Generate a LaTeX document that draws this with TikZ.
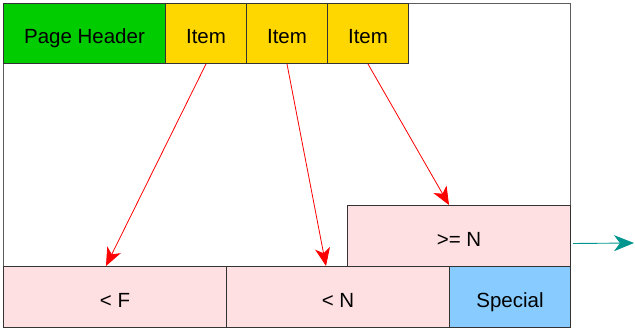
\documentclass[tikz,border=0pt]{standalone}
\usepackage{fontspec}
\setmainfont{Liberation Sans}
\usetikzlibrary{arrows.meta,calc}
\definecolor{hgreen}{HTML}{00CC00}
\definecolor{hyellow}{HTML}{FFD700}
\definecolor{hpink}{HTML}{FFE0E2}
\definecolor{hblue}{HTML}{88CCFF}
\definecolor{hteal}{HTML}{00968F}
\definecolor{hframe}{HTML}{333333}
\begin{document}
\begin{tikzpicture}[x=1pt,y=-1pt,
  cell/.style={draw=hframe,line width=1pt,anchor=north west,inner sep=0pt,text height=21pt,text depth=0pt,font=\fontsize{20.5}{24}\selectfont},
  redarrow/.style={draw=red,line width=0.8pt,-{Stealth[length=18pt,width=15pt,inset=5pt]}},
  tealarrow/.style={draw=hteal,line width=0.9pt,-{Stealth[length=20pt,width=16pt,inset=6pt]}}]
\useasboundingbox (0,0) rectangle (635,328);
\node[draw=hframe!80,line width=1pt,anchor=north west,minimum width=567pt,minimum height=324pt,inner sep=0pt] (frame) at (3,3) {};
\node[cell,fill=hgreen,minimum width=162pt,minimum height=60pt] (ph) at (3,3) {Page Header};
\node[cell,fill=hyellow,minimum width=81pt,minimum height=60pt] (i1) at (165,3) {Item};
\node[cell,fill=hyellow,minimum width=81pt,minimum height=60pt] (i2) at (246,3) {Item};
\node[cell,fill=hyellow,minimum width=81pt,minimum height=60pt] (i3) at (327,3) {Item};
\node[cell,fill=hpink,minimum width=223pt,minimum height=61pt] (ge) at (347,205) {>= N};
\node[cell,fill=hpink,minimum width=223pt,minimum height=61pt] (lf) at (3,266) {< F};
\node[cell,fill=hpink,minimum width=223pt,minimum height=61pt] (ln) at (226,266) {< N};
\node[cell,fill=hblue,minimum width=121pt,minimum height=61pt] (sp) at (449,266) {Special};
\coordinate (out) at (634,243);
\draw[redarrow] (i1.south) -- ([xshift=-9pt]lf.north);
\draw[redarrow] (i2.south) -- ([xshift=-12pt]ln.north);
\draw[redarrow] (i3.south) -- ([xshift=-10pt]ge.north);
\draw[tealarrow] ([xshift=2pt,yshift=-7.5pt]ge.east) -- (out);
\end{tikzpicture}
\end{document}
